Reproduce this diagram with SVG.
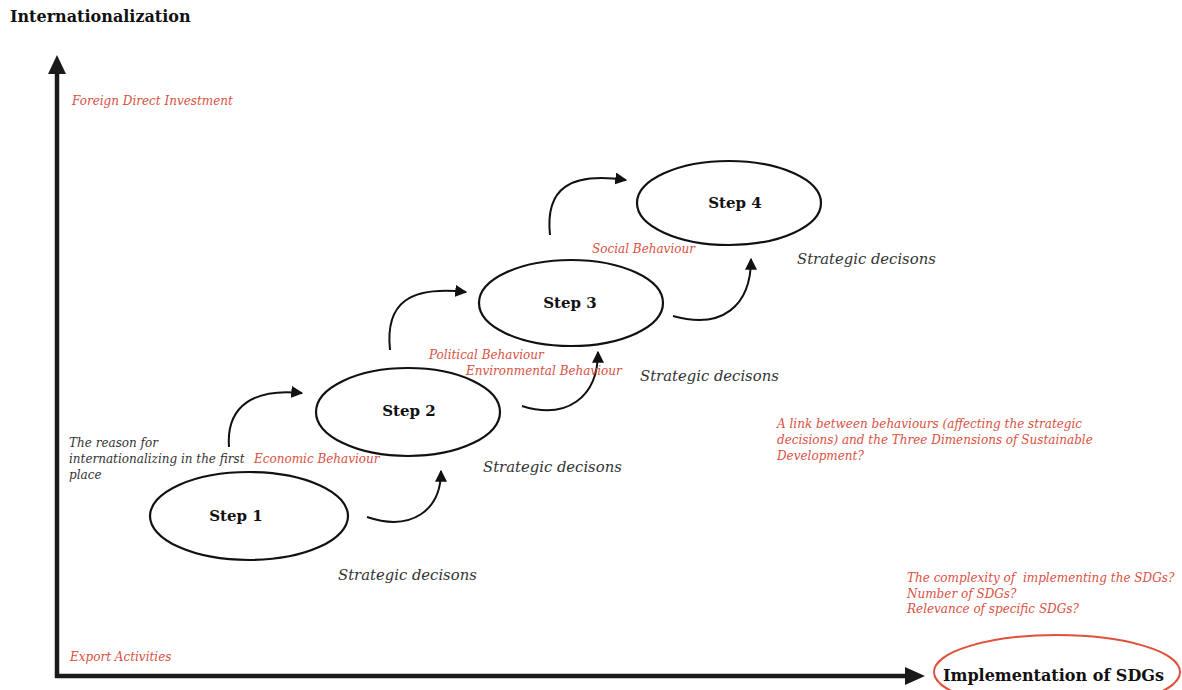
<svg xmlns="http://www.w3.org/2000/svg" width="1182" height="690" viewBox="0 0 1182 690">
  <style>
    .ttl { font-family: "DejaVu Serif", "Liberation Serif", serif; font-weight: bold; fill: #111; }
    .step { font-family: "DejaVu Serif", "Liberation Serif", serif; font-weight: bold; font-size: 15px; fill: #111; text-anchor: middle; }
    .red { font-family: "DejaVu Serif", "Liberation Serif", serif; font-style: italic; font-size: 12px; fill: #d9503f; }
    .note { font-family: "DejaVu Serif", "Liberation Serif", serif; font-style: italic; font-size: 12px; fill: #333; }
    .sd { font-family: "DejaVu Serif", "Liberation Serif", serif; font-style: italic; font-size: 14.8px; fill: #333; }
    .node { fill: #fff; stroke: #111; stroke-width: 2.2; }
    .conn { fill: none; stroke: #111; stroke-width: 2; marker-end: url(#tip); }
    .axis { fill: none; stroke: #1a1a1a; stroke-width: 4.5; }
  </style>
  <defs>
    <marker id="tip" viewBox="0 0 10 10" refX="9" refY="5" markerWidth="6" markerHeight="6" orient="auto" markerUnits="strokeWidth">
      <path d="M0,0 L10,5 L0,10 z" fill="#111"/>
    </marker>
  </defs>
  <rect width="1182" height="690" fill="#fff"/>

  <!-- axes -->
  <g id="axes">
    <path class="axis" d="M57,678 L57,72"/>
    <path d="M48,74 L57,55 L66,74 z" fill="#1a1a1a"/>
    <path class="axis" d="M55,676 L907,676"/>
    <path d="M905,667 L925,676 L905,685 z" fill="#1a1a1a"/>
    <text class="ttl" x="10" y="22" font-size="16">Internationalization</text>
    <text class="red" x="72" y="105">Foreign Direct Investment</text>
    <text class="red" x="70" y="661">Export Activities</text>
  </g>

  <!-- connectors -->
  <g id="connectors">
    <path class="conn" d="M229,447 C226,405 255,388 302,393"/>
    <path class="conn" d="M367,517 C412,532 441,510 441,471"/>
    <path class="conn" d="M390,350 C385,302 410,286 466,292"/>
    <path class="conn" d="M522,406 C566,420 598,398 598,352"/>
    <path class="conn" d="M550,235 C545,188 570,172 626,180"/>
    <path class="conn" d="M673,316 C722,330 751,306 751,259"/>
  </g>

  <g id="step1">
    <ellipse class="node" cx="249" cy="516" rx="99" ry="44"/>
    <text class="step" x="236" y="521">Step 1</text>
  </g>
  <g id="step2">
    <ellipse class="node" cx="408" cy="412" rx="92" ry="44"/>
    <text class="step" x="409" y="416">Step 2</text>
  </g>
  <g id="step3">
    <ellipse class="node" cx="571" cy="303" rx="92" ry="43"/>
    <text class="step" x="570" y="308">Step 3</text>
  </g>
  <g id="step4">
    <ellipse class="node" cx="729" cy="203" rx="92" ry="42"/>
    <text class="step" x="735" y="208">Step 4</text>
  </g>

  <g id="sdgs">
    <ellipse cx="1057" cy="672" rx="123" ry="37" fill="#fff" stroke="#e0503c" stroke-width="2"/>
    <text class="ttl" x="943" y="681" font-size="16">Implementation of SDGs</text>
  </g>

  <!-- labels -->
  <g id="labels">
    <text class="note" x="69" y="447">The reason for</text>
    <text class="note" x="69" y="463">internationalizing in the first</text>
    <text class="note" x="69" y="479">place</text>
    <text class="red" x="254" y="463">Economic Behaviour</text>
    <text class="red" x="429" y="359">Political Behaviour</text>
    <text class="red" x="466" y="375">Environmental Behaviour</text>
    <text class="red" x="592" y="253">Social Behaviour</text>
    <text class="sd" x="338" y="580">Strategic decisons</text>
    <text class="sd" x="483" y="472">Strategic decisons</text>
    <text class="sd" x="640" y="381">Strategic decisons</text>
    <text class="sd" x="797" y="264">Strategic decisons</text>
    <text class="red" x="777" y="428">A link between behaviours (affecting the strategic</text>
    <text class="red" x="777" y="444">decisions) and the Three Dimensions of Sustainable</text>
    <text class="red" x="777" y="460">Development?</text>
    <text class="red" x="907" y="582" xml:space="preserve">The complexity of  implementing the SDGs?</text>
    <text class="red" x="907" y="598">Number of SDGs?</text>
    <text class="red" x="907" y="613">Relevance of specific SDGs?</text>
  </g>
</svg>
